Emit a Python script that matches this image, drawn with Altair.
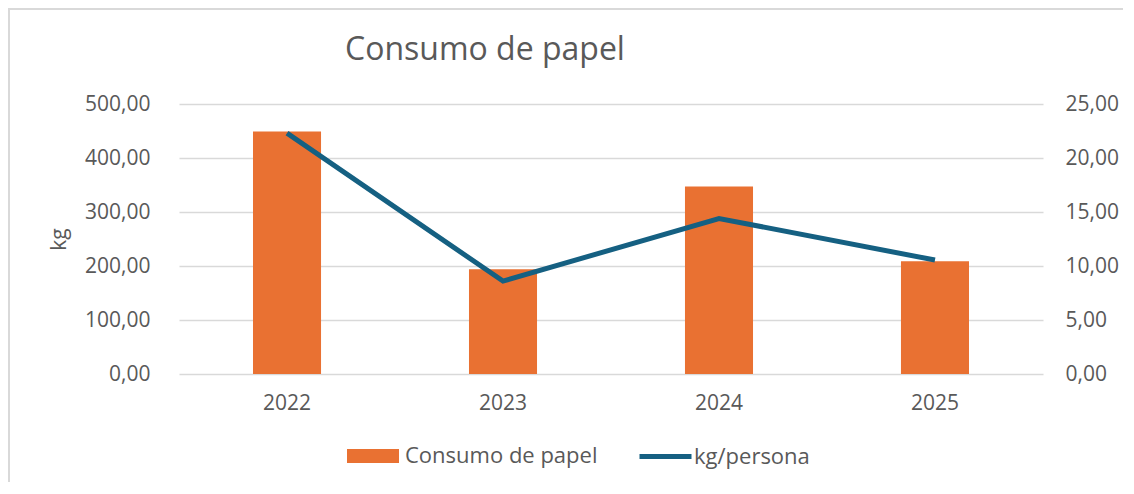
import altair as alt
import pandas as pd

years = ["2022", "2023", "2024", "2025"]
consumo = [449, 194, 347, 209]
kg_persona = [22.3, 8.6, 14.4, 10.55]
series = ["Consumo de papel", "kg/persona"]
left_ticks = [0, 100, 200, 300, 400, 500]
right_ticks = [0, 5, 10, 15, 20, 25]

df = pd.DataFrame({
    "year": years,
    "consumo": consumo,
    "kgp": kg_persona,
    "s1": [series[0]] * len(years),
    "s2": [series[1]] * len(years),
})

ORANGE = "#E97132"
BLUE = "#156082"
GRID = "#D9D9D9"
TEXT = "#595959"
FONT = "Open Sans"

num_expr = "replace(format(datum.value, '.2f'), '.', ',')"

x_enc = alt.X(
    "year:N", title=None,
    scale=alt.Scale(paddingInner=0.685, paddingOuter=0.3426),
    axis=alt.Axis(labelAngle=0, ticks=False, domain=False, grid=False,
                  labelPadding=18, labelFontSize=21, labelColor=TEXT, labelFont=FONT),
)

bars = alt.Chart(df).mark_bar().encode(
    x=x_enc,
    y=alt.Y(
        "consumo:Q", title="kg",
        scale=alt.Scale(domain=[0, 500], nice=False),
        axis=alt.Axis(values=left_ticks, labelExpr=num_expr, grid=True, gridColor=GRID,
                      gridWidth=1.3, domain=False, ticks=False, labelPadding=29,
                      labelFontSize=21, labelColor=TEXT, labelFont=FONT,
                      titleFontSize=21, titleFont=FONT, titleColor=TEXT,
                      titleFontWeight="normal", titlePadding=15),
    ),
    fill=alt.Fill(
        "s1:N",
        scale=alt.Scale(domain=[series[0]], range=[ORANGE]),
        legend=alt.Legend(title=None, orient="none", legendX=168, legendY=326,
                          symbolType="M-1,-0.27L1,-0.27L1,0.27L-1,0.27Z", symbolSize=2704,
                          symbolStrokeWidth=0, symbolOpacity=1, labelFontSize=22,
                          labelColor=TEXT, labelFont=FONT, labelOffset=6, labelLimit=0,
                          padding=0),
    ),
)

line = alt.Chart(df).mark_line(strokeWidth=5, strokeCap="butt", strokeJoin="miter").encode(
    x=x_enc,
    y=alt.Y(
        "kgp:Q", title=None,
        scale=alt.Scale(domain=[0, 25], nice=False),
        axis=alt.Axis(orient="right", values=right_ticks, labelExpr=num_expr, grid=False,
                      domain=False, ticks=False, labelPadding=22, labelFontSize=21,
                      labelColor=TEXT, labelFont=FONT),
    ),
    stroke=alt.Stroke(
        "s2:N",
        scale=alt.Scale(domain=[series[1]], range=[BLUE]),
        legend=alt.Legend(title=None, orient="none", legendX=458, legendY=324,
                          symbolType="stroke", symbolSize=2704, symbolStrokeWidth=5,
                          labelFontSize=22, labelColor=TEXT, labelFont=FONT,
                          labelOffset=0, labelLimit=0, padding=0),
    ),
)

frame_df = pd.DataFrame({"k": [0]})
left_border = alt.Chart(frame_df).mark_rule(color=GRID, strokeWidth=2).encode(
    x=alt.value(-170), y=alt.value(-96), y2=alt.value(378)
)
top_border = alt.Chart(frame_df).mark_rule(color=GRID, strokeWidth=2).encode(
    x=alt.value(-171), x2=alt.value(944), y=alt.value(-95)
)

chart = alt.layer(bars, line, left_border, top_border).resolve_scale(
    y="independent", fill="independent", stroke="independent"
).properties(
    width=864,
    height=270,
    title=alt.TitleParams("Consumo de papel", anchor="start", frame="group", dx=166,
                          fontSize=32, font=FONT, color=TEXT, fontWeight="normal",
                          offset=-60),
    autosize=alt.AutoSizeParams(type="none"),
    padding={"left": 171, "top": 96, "right": 80, "bottom": 108},
).configure_view(stroke=None)

chart.save("out.html", embed_options={"renderer": "svg", "actions": False})
